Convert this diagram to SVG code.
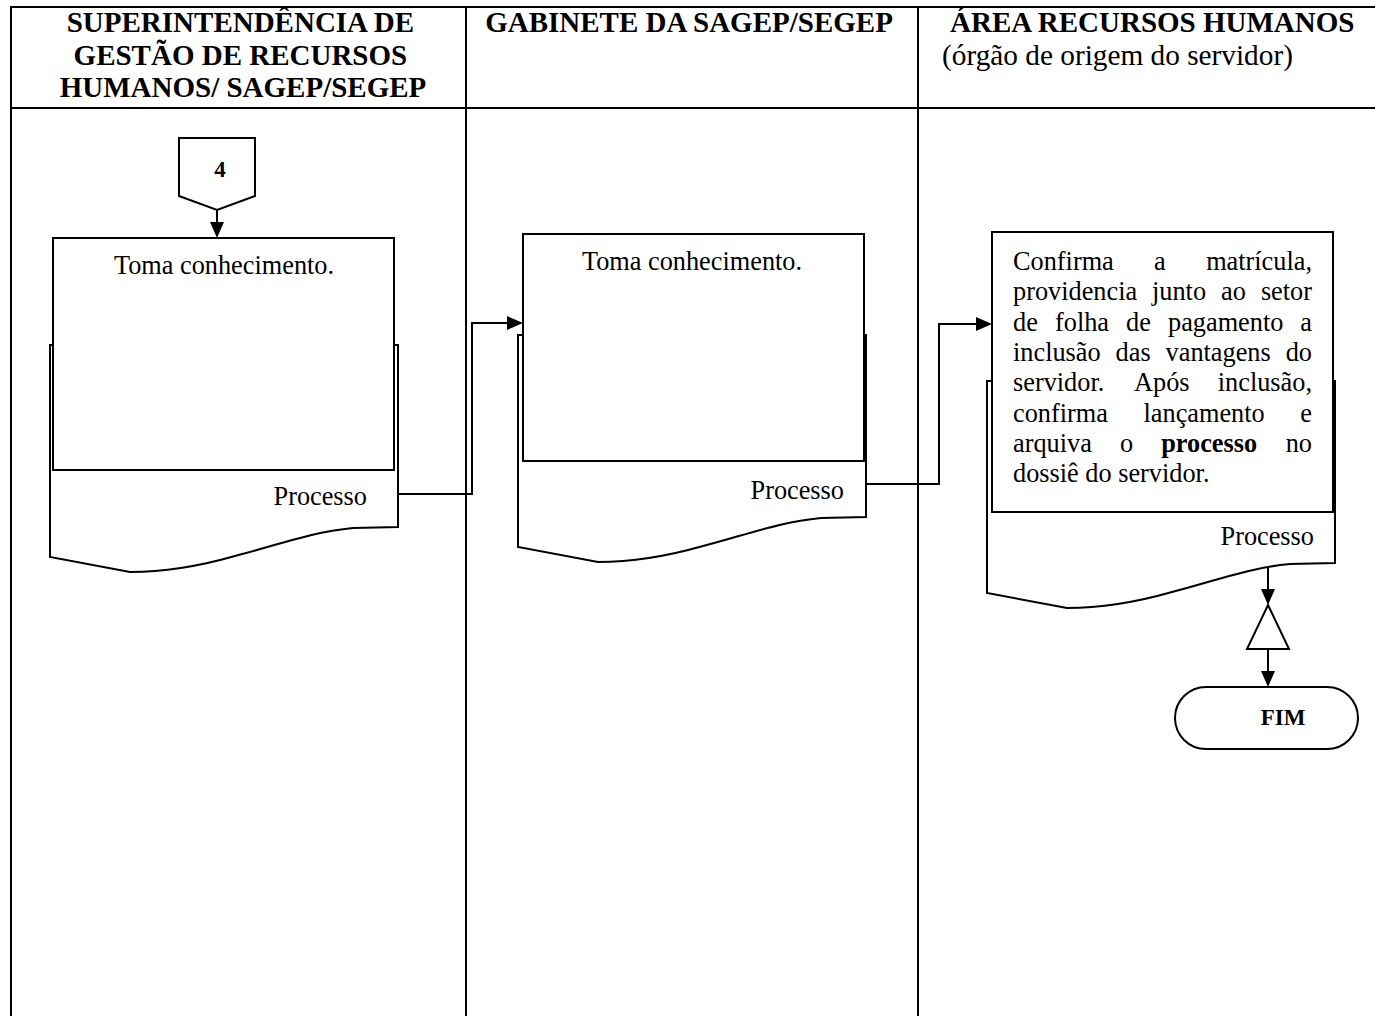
<svg xmlns="http://www.w3.org/2000/svg" width="1375" height="1016" viewBox="0 0 1375 1016">
  <defs>
    <marker id="arrow" viewBox="0 0 16 14" refX="8" refY="7" markerWidth="16" markerHeight="14" markerUnits="userSpaceOnUse" orient="auto">
      <path d="M0,0 L16,7 L0,14 Z" fill="#000"/>
    </marker>
    <!-- document shape with wavy bottom, 348 wide -->
    <path id="docShape" d="M0,0 L348,0 L348,182 L303,183 C260,187 225,201 185,211 C150,221 115,227 80,227 L0,212 Z"/>
  </defs>
  <style>
    .grid { stroke: #000; stroke-width: 2; fill: none; }
    .shape { fill: #fff; stroke: #000; stroke-width: 2; }
    .conn { fill: none; stroke: #000; stroke-width: 2; }
    .hdr { font-family: "Liberation Serif", "Times New Roman", serif; font-size: 29px; font-weight: bold; fill: #000; }
    .hdr-sub { font-family: "Liberation Serif", "Times New Roman", serif; font-size: 29.3px; fill: #000; }
    .txt { font-family: "Liberation Serif", "Times New Roman", serif; font-size: 26.3px; fill: #000; }
    .b { font-weight: bold; }
    .lbl { font-family: "Liberation Serif", "Times New Roman", serif; font-size: 23px; font-weight: bold; fill: #000; }
  </style>

  <rect width="1375" height="1016" fill="#fff"/>

  <!-- swimlane table -->
  <g id="lanes">
    <line class="grid" x1="10" y1="7" x2="1375" y2="7"/>
    <line class="grid" x1="10" y1="108" x2="1375" y2="108"/>
    <line class="grid" x1="11" y1="6" x2="11" y2="1016"/>
    <line class="grid" x1="466" y1="6" x2="466" y2="1016"/>
    <line class="grid" x1="918" y1="6" x2="918" y2="1016"/>
    <text class="hdr" text-anchor="middle">
      <tspan x="244" y="32">SUPERINTENDÊNCIA DE</tspan>
      <tspan x="244" y="64.5">GESTÃO DE RECURSOS</tspan>
      <tspan x="243" y="97">HUMANOS/ SAGEP/SEGEP</tspan>
    </text>
    <text class="hdr" x="689" y="32" text-anchor="middle">GABINETE DA SAGEP/SEGEP</text>
    <text class="hdr" x="950" y="32">ÁREA RECURSOS HUMANOS</text>
    <text class="hdr-sub" x="942" y="65">(órgão de origem do servidor)</text>
  </g>

  <!-- connectors -->
  <g id="connectors">
    <line class="conn" x1="217" y1="210" x2="217" y2="230" marker-end="url(#arrow)"/>
    <path class="conn" d="M398,494 L472,494 L472,323 L515,323" marker-end="url(#arrow)"/>
    <path class="conn" d="M866,484 L939,484 L939,324 L984,324" marker-end="url(#arrow)"/>
    <line class="conn" x1="1268" y1="565" x2="1268" y2="597" marker-end="url(#arrow)"/>
    <line class="conn" x1="1268" y1="649" x2="1268" y2="679" marker-end="url(#arrow)"/>
  </g>

  <!-- off-page connector 4 -->
  <g id="node-4">
    <polygon class="shape" points="179,138 255,138 255,196 217,210 179,196"/>
    <text class="lbl" x="220" y="177" text-anchor="middle" font-size="26">4</text>
  </g>

  <!-- step 1 -->
  <g id="node-toma-1">
    <use href="#docShape" class="shape" transform="translate(50,345)"/>
    <rect class="shape" x="53" y="238" width="341" height="232"/>
    <text class="txt" x="224" y="274" text-anchor="middle">Toma conhecimento.</text>
    <text class="txt" x="367" y="505" text-anchor="end">Processo</text>
  </g>

  <!-- step 2 -->
  <g id="node-toma-2">
    <use href="#docShape" class="shape" transform="translate(518,335)"/>
    <rect class="shape" x="523" y="234" width="341" height="227"/>
    <text class="txt" x="692" y="270" text-anchor="middle">Toma conhecimento.</text>
    <text class="txt" x="844" y="499" text-anchor="end">Processo</text>
  </g>

  <!-- step 3 -->
  <g id="node-confirma">
    <use href="#docShape" class="shape" transform="translate(987,381)"/>
    <rect class="shape" x="992" y="232" width="341" height="280"/>
    <g class="txt">
      <text x="1013" y="270">Confirma</text>
      <text x="1154" y="270">a</text>
      <text x="1312" y="270" text-anchor="end">matrícula,</text>

      <text x="1013" y="300.3">providencia</text>
      <text x="1152" y="300.3">junto</text>
      <text x="1221" y="300.3">ao</text>
      <text x="1312" y="300.3" text-anchor="end">setor</text>

      <text x="1013" y="330.6">de</text>
      <text x="1055" y="330.6">folha</text>
      <text x="1126" y="330.6">de</text>
      <text x="1168" y="330.6">pagamento</text>
      <text x="1312" y="330.6" text-anchor="end">a</text>

      <text x="1013" y="360.9">inclusão</text>
      <text x="1115.6" y="360.9">das</text>
      <text x="1165.6" y="360.9">vantagens</text>
      <text x="1312" y="360.9" text-anchor="end">do</text>

      <text x="1013" y="391.2">servidor.</text>
      <text x="1134" y="391.2">Após</text>
      <text x="1312" y="391.2" text-anchor="end">inclusão,</text>

      <text x="1013" y="421.5">confirma</text>
      <text x="1143.5" y="421.5">lançamento</text>
      <text x="1312" y="421.5" text-anchor="end">e</text>

      <text x="1013" y="451.8">arquiva</text>
      <text x="1120" y="451.8">o</text>
      <text x="1161.2" y="451.8" class="b">processo</text>
      <text x="1312" y="451.8" text-anchor="end">no</text>

      <text x="1013" y="482.1">dossiê do servidor.</text>
    </g>
    <text class="txt" x="1314" y="545" text-anchor="end">Processo</text>
  </g>

  <!-- archive symbol -->
  <g id="node-archive">
    <polygon class="shape" points="1268,605 1289,649 1247,649"/>
  </g>

  <!-- terminator -->
  <g id="node-fim">
    <rect class="shape" x="1175" y="687" width="183" height="62" rx="31" ry="31"/>
    <text class="lbl" x="1283" y="725" text-anchor="middle">FIM</text>
  </g>
</svg>
